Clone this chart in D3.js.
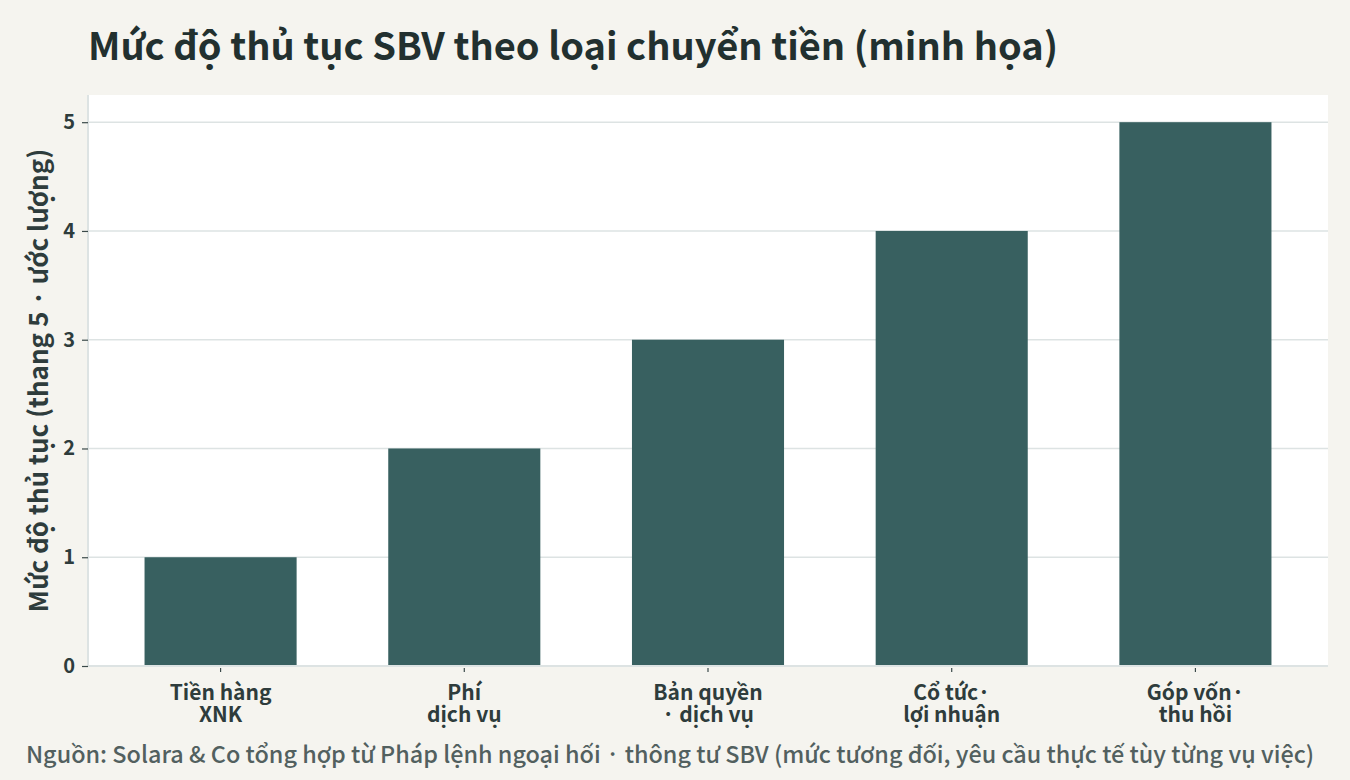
<!DOCTYPE html>
<html>
<head>
<meta charset="utf-8">
<title>Mức độ thủ tục SBV</title>
<script src="https://d3js.org/d3.v7.min.js"></script>
<style>
  * { margin: 0; padding: 0; }
  body { background: #f5f4ef; font-family: "Noto Sans CJK JP", "Noto Sans", sans-serif; }
  svg { display: block; }
</style>
</head>
<body>
<div id="chart"></div>
<script>
// data
const categories = ["Tiền hàng\nXNK", "Phí\ndịch vụ", "Bản quyền\n· dịch vụ", "Cổ tức·\nlợi nhuận", "Góp vốn·\nthu hồi"];
const values = [1, 2, 3, 4, 5];
const yTicks = [0, 1, 2, 3, 4, 5];

const titleText = "Mức độ thủ tục SBV theo loại chuyển tiền (minh họa)";
const yLabel = "Mức độ thủ tục (thang 5 · ước lượng)";
const sourceText = "Nguồn: Solara & Co tổng hợp từ Pháp lệnh ngoại hối · thông tư SBV (mức tương đối, yêu cầu thực tế tùy từng vụ việc)";

const W = 1350, H = 780;
const margin = {top: 95, right: 22, bottom: 114, left: 88};
const innerW = W - margin.left - margin.right;
const innerH = H - margin.top - margin.bottom;
const FONT = "Noto Sans CJK JP";

const svg = d3.select("#chart").append("svg")
  .attr("width", W)
  .attr("height", H)
  .attr("font-family", FONT);

svg.append("rect").attr("width", W).attr("height", H).attr("fill", "#f5f4ef");

svg.append("text")
  .attr("x", 88).attr("y", 60)
  .attr("font-size", 38).attr("font-weight", 700)
  .attr("fill", "#22302f")
  .text(titleText);

const g = svg.append("g").attr("transform", `translate(${margin.left},${margin.top})`);

g.append("rect").attr("width", innerW).attr("height", innerH).attr("fill", "#ffffff");

const x = d3.scaleBand()
  .domain(categories)
  .range([0, innerW])
  .paddingInner(0.376)
  .paddingOuter(0.232);

const y = d3.scaleLinear()
  .domain([0, 5.25])
  .range([innerH, 0]);

// grid
g.append("g")
  .selectAll("line")
  .data(yTicks.filter(d => d > 0))
  .enter().append("line")
  .attr("x1", 0).attr("x2", innerW)
  .attr("y1", d => y(d)).attr("y2", d => y(d))
  .attr("stroke", "#dde3e3").attr("stroke-width", 1.5);

// bars
g.selectAll(".bar")
  .data(values)
  .enter().append("rect")
  .attr("class", "bar")
  .attr("x", (d, i) => x(categories[i]))
  .attr("y", d => y(d))
  .attr("width", x.bandwidth())
  .attr("height", d => innerH - y(d))
  .attr("fill", "#386060");

// y axis
const yAxis = g.append("g")
  .call(d3.axisLeft(y).tickValues(yTicks).tickSize(6).tickPadding(7).tickFormat(d3.format("d")));
yAxis.select(".domain").attr("stroke", "#dde3e3").attr("stroke-width", 2).attr("d", `M0,0V${innerH}`);
yAxis.selectAll(".tick line").attr("stroke", "#3b4a4a").attr("stroke-width", 1.2);
yAxis.selectAll(".tick text")
  .attr("font-family", FONT).attr("font-size", 20).attr("font-weight", 700)
  .attr("fill", "#2e3c3c");

// x axis
const xAxis = g.append("g")
  .attr("transform", `translate(0,${innerH})`)
  .call(d3.axisBottom(x).tickSize(6).tickPadding(13));
xAxis.select(".domain").attr("stroke", "#dde3e3").attr("stroke-width", 2).attr("d", `M0,0H${innerW}`);
xAxis.selectAll(".tick line").attr("stroke", "#3b4a4a").attr("stroke-width", 1.2).attr("y1", 2);
xAxis.selectAll(".tick text").each(function(d) {
  const t = d3.select(this);
  t.text(null)
    .attr("font-family", FONT).attr("font-size", 21).attr("font-weight", 700)
    .attr("fill", "#2e3c3c");
  d.split("\n").forEach((line, i) => {
    t.append("tspan").attr("x", 0).attr("dy", i === 0 ? "0.71em" : "1.07em").text(line);
  });
});

// y label
svg.append("text")
  .attr("transform", `translate(48,${margin.top + innerH / 2}) rotate(-90)`)
  .attr("text-anchor", "middle")
  .attr("font-size", 26).attr("font-weight", 700)
  .attr("fill", "#2e3c3c")
  .text(yLabel);

// source
svg.append("text")
  .attr("x", 670).attr("y", 763)
  .attr("text-anchor", "middle")
  .attr("font-size", 23.4).attr("font-weight", 500)
  .attr("fill", "#52605f")
  .text(sourceText);
</script>
</body>
</html>
